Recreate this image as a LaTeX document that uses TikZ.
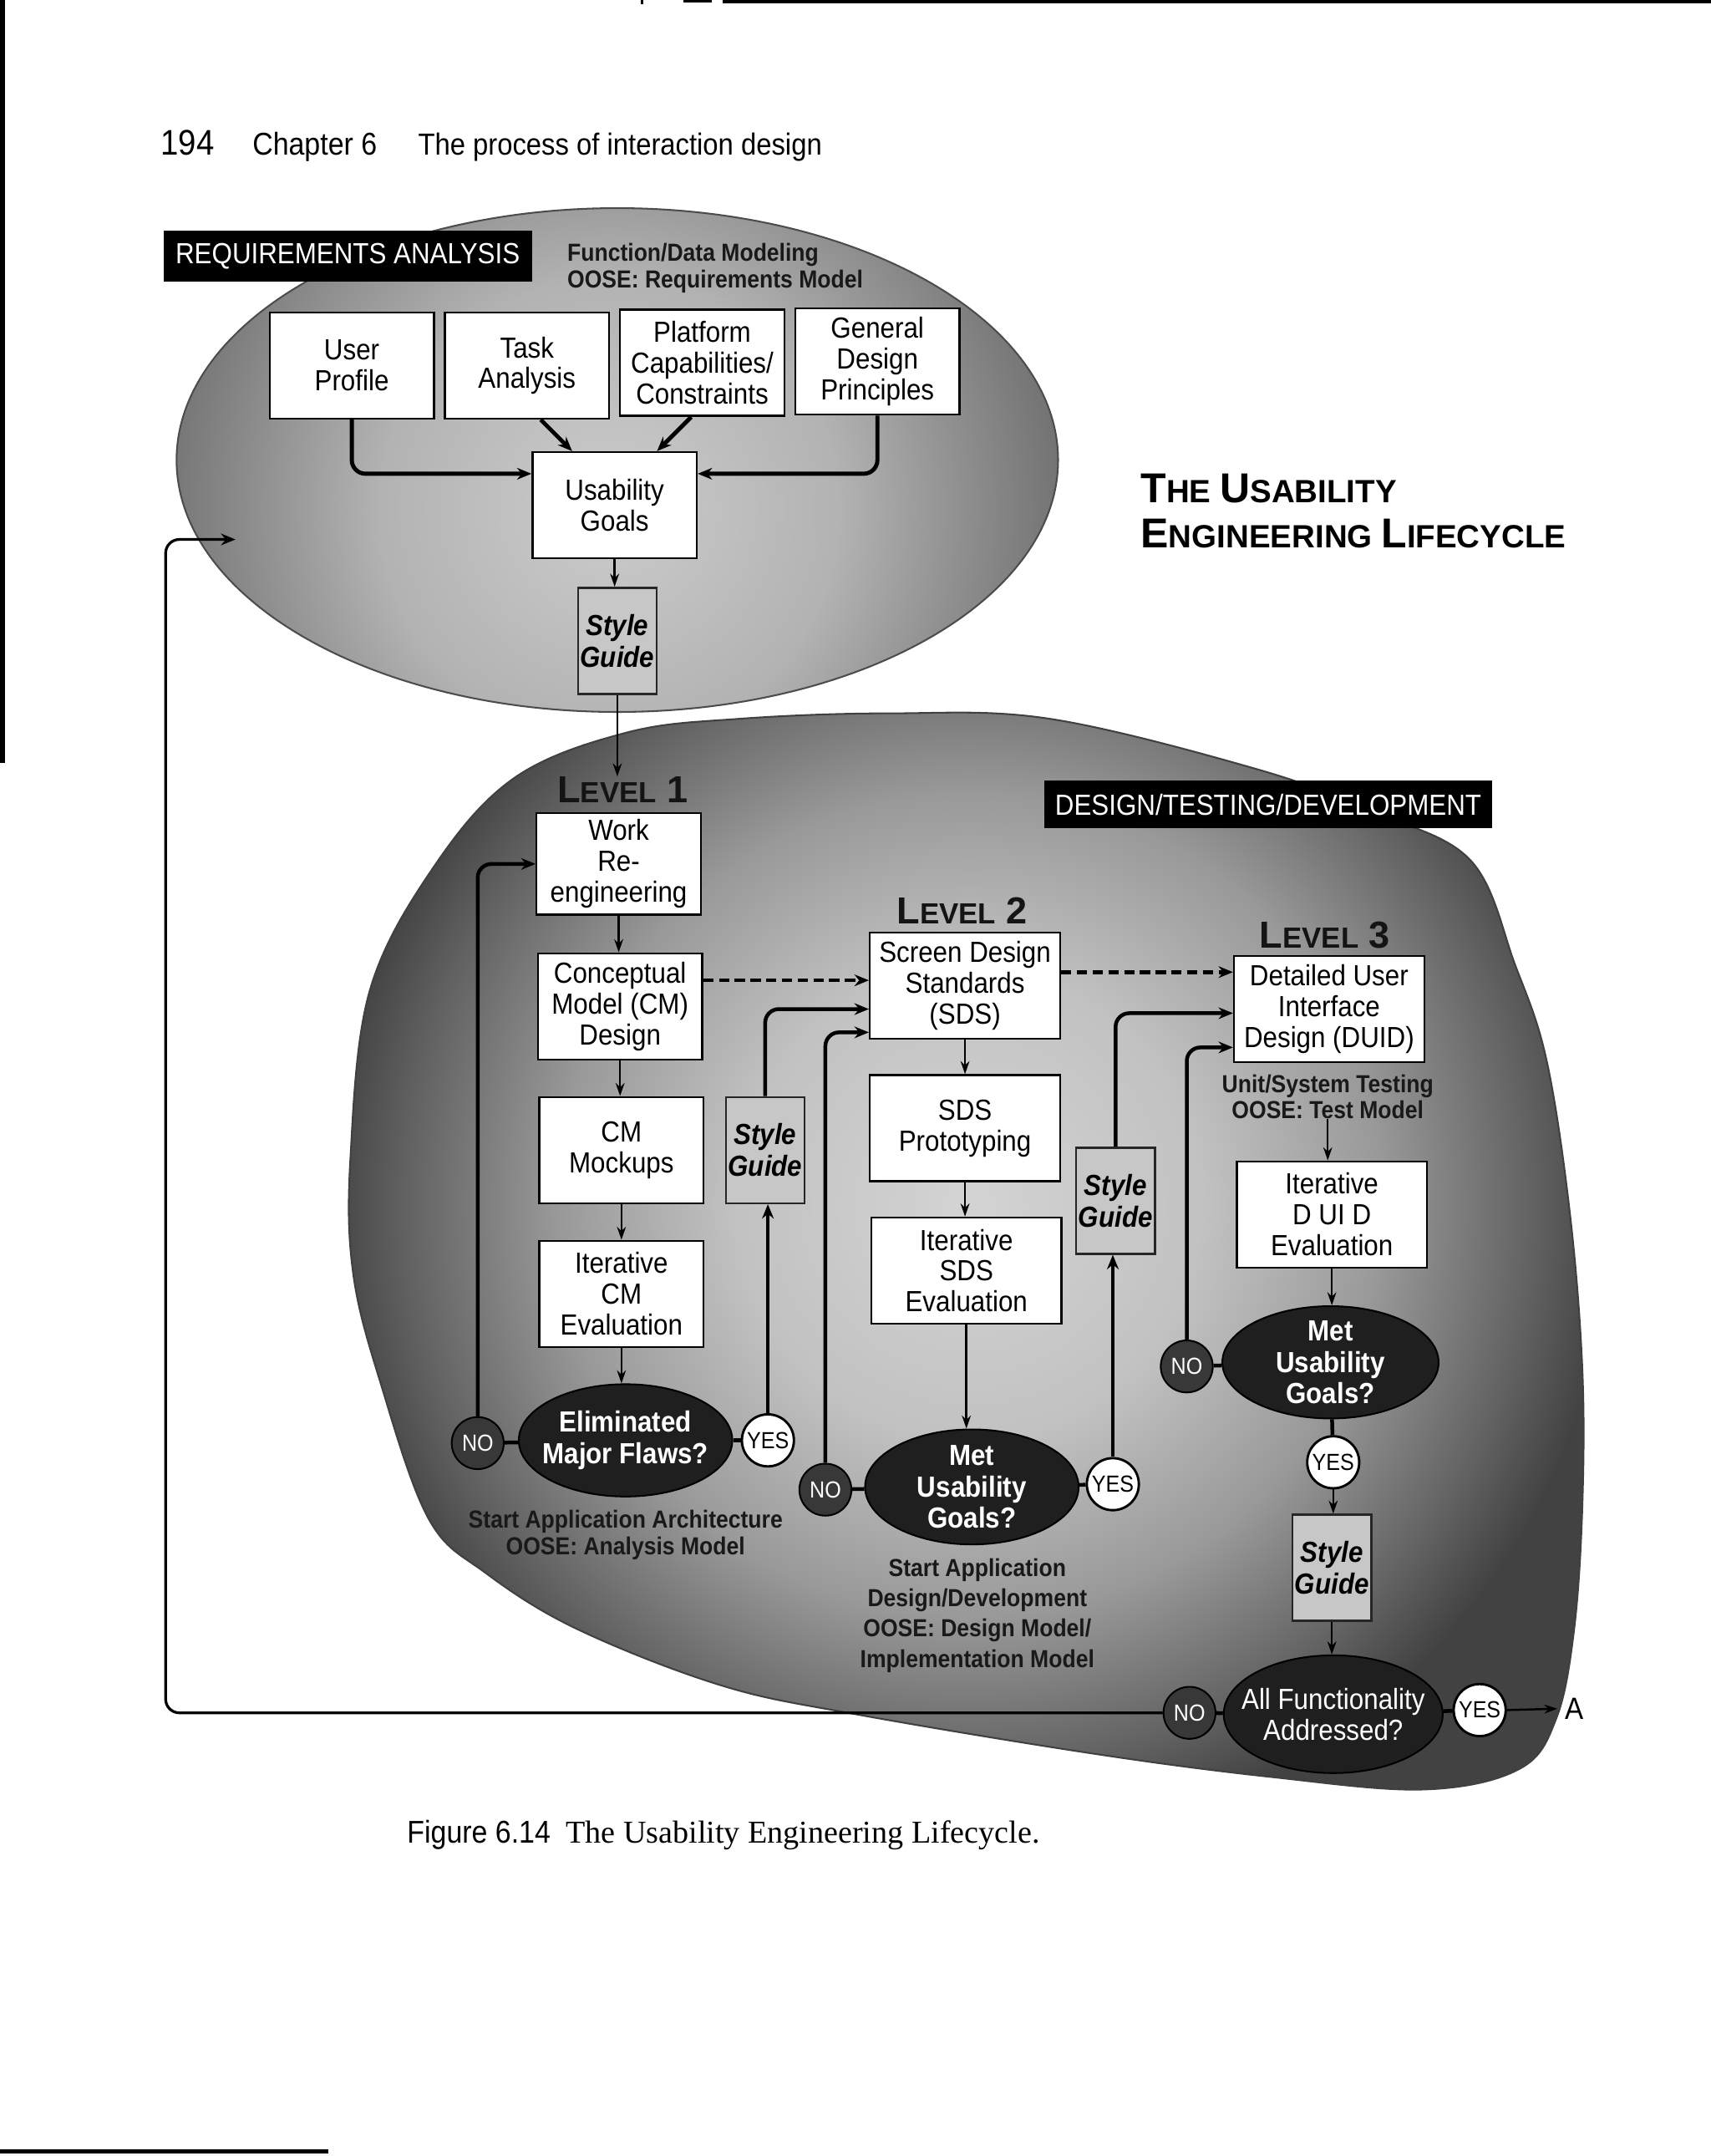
\documentclass[tikz,border=0pt]{standalone}
\usepackage{fontspec}
\setmainfont{Liberation Sans}
\newfontfamily\hv[FakeStretch=0.9]{Liberation Sans}
\newfontfamily\tms{Liberation Serif}
\usetikzlibrary{arrows.meta,shapes.geometric,calc}
\colorlet{blA}{black!17}
\colorlet{blB}{black!24}
\colorlet{blC}{black!40}
\colorlet{blD}{black!62}
\colorlet{blE}{black!74}
\colorlet{elA}{black!20}
\colorlet{elB}{black!30}
\colorlet{elC}{black!58}
\pgfdeclareradialshading{blobsh}{\pgfpoint{0bp}{0bp}}{color(0bp)=(blA); color(9bp)=(blB); color(16bp)=(blC); color(22bp)=(blD); color(25bp)=(blE); color(50bp)=(blE)}
\pgfdeclareradialshading{ellsh}{\pgfpoint{0bp}{0bp}}{color(0bp)=(elA); color(12bp)=(elB); color(25bp)=(elC); color(50bp)=(elC)}
\newcommand\myBoxFont{\hv\fontsize{8.5}{9}\selectfont}
\newcommand\myNoteFont{\hv\bfseries\fontsize{7.2}{7.8}\selectfont}
\newcommand\myLvl[1]{{\fontsize{11}{11}\selectfont L}{\fontsize{8.5}{8.5}\selectfont EVEL}{\fontsize{11}{11}\selectfont\ #1}}
\tikzset{
  wbox/.style={draw=black, line width=0.6pt, fill=white, minimum width=48pt, minimum height=31pt, inner sep=0pt, align=center, font=\myBoxFont},
  sgbox/.style={draw=black!85, line width=0.6pt, fill=black!22, minimum width=23pt, minimum height=31pt, inner sep=0pt, align=center, font=\hv\bfseries\itshape\fontsize{8.5}{9.2}\selectfont},
  decshape/.style={ellipse, draw=black, fill=black!88, line width=0.5pt, inner sep=0pt},
  dectxt/.style={text=white, align=center, font=\hv\bfseries\fontsize{8.5}{9.1}\selectfont, inner sep=0pt},
  nocirc/.style={circle, draw=black, fill=black!78, text=white, minimum size=15.2pt, inner sep=0pt, font=\hv\fontsize{6.8}{7}\selectfont, line width=0.5pt},
  yescirc/.style={circle, draw=black, fill=white, minimum size=15.2pt, inner sep=0pt, font=\hv\fontsize{6.8}{7}\selectfont, line width=0.7pt},
  arr/.style={line width=0.6pt, -{Stealth[length=3.8pt, width=2.6pt]}},
  arrb/.style={line width=1.1pt, rounded corners=4pt, -{Stealth[length=4.2pt, width=3.4pt]}},
  darr/.style={line width=1.1pt, dash pattern=on 3pt off 1.6pt, -{Stealth[length=4.2pt, width=3.4pt]}},
  link/.style={line width=1.1pt},
  lvl/.style={font=\bfseries, text=black!92, inner sep=0pt},
  note/.style={font=\myNoteFont, text=black!90, inner sep=0pt, align=center},
  blab/.style={fill=black, text=white, inner sep=0pt, font=\hv\fontsize{8.5}{9}\selectfont},
}
\begin{document}
\begin{tikzpicture}[x=0.4pt,y=-0.4pt]
\useasboundingbox[fill=white] (0,0) rectangle (1250,1574.7);
% page edge marks
\fill (528,0) rectangle (1250,2.5);
\fill (499,0) rectangle (520,2);
\fill (468,0) rectangle (470,3);
\fill (0,0) rectangle (3.5,557);
\fill (0,1569.5) rectangle (240,1573);
% header
\node[anchor=base west, inner sep=0, font=\hv\fontsize{10.4}{11}\selectfont] (pg) at (117,113) {194};
\node[anchor=base west, inner sep=0, font=\hv\fontsize{9.2}{11}\selectfont] (ch) at (184,113) {Chapter 6};
\node[anchor=base west, inner sep=0, font=\hv\fontsize{8.9}{11}\selectfont] (cht) at (305,113) {The process of interaction design};
% requirements ellipse
\begin{scope}
  \clip (451,336) ellipse [x radius=322, y radius=184];
  \fill[elC] (120,140) rectangle (780,530);
  \shade[shading=ellsh] (445,372) circle [radius=350];
\end{scope}
\draw[black!70, line width=0.5pt] (451,336) ellipse [x radius=322, y radius=184];
% design blob
\begin{scope}
  \clip plot[smooth cycle, tension=0.6] coordinates {(376,568) (458,535) (540,525) (650,521) (767,525) (919,562) (1000,592) (1074,628) (1107,705) (1130,775) (1147,887) (1156,1000) (1156,1100) (1150,1190) (1137,1255) (1110,1292) (1040,1307) (930,1298) (800,1281) (625,1252) (527,1231) (422,1190) (355,1149) (313,1109) (278,1010) (258,930) (256,846) (270,724) (317,633)};
  \fill[blE] (240,500) rectangle (1180,1330);
  \shade[shading=blobsh] (708,880) circle [radius=470];
\end{scope}
\draw[black!75, line width=0.5pt]
  plot[smooth cycle, tension=0.6] coordinates {(376,568) (458,535) (540,525) (650,521) (767,525) (919,562) (1000,592) (1074,628) (1107,705) (1130,775) (1147,887) (1156,1000) (1156,1100) (1150,1190) (1137,1255) (1110,1292) (1040,1307) (930,1298) (800,1281) (625,1252) (527,1231) (422,1190) (355,1149) (313,1109) (278,1010) (258,930) (256,846) (270,724) (317,633)};
% labels
\node[blab, minimum width=107.6pt, minimum height=14.8pt] (req) at (254,187) {REQUIREMENTS ANALYSIS};
\node[blab, minimum width=130.8pt, minimum height=14pt] (dtd) at (926.5,587.5) {DESIGN/TESTING/DEVELOPMENT};
\node[note, anchor=west, align=left] (fdm) at (414,196) {Function/Data Modeling\\OOSE: Requirements Model};
% title
\node[anchor=base west, inner sep=0, font=\bfseries] (tt1) at (833,367) {{\fontsize{12.2}{13}\selectfont T}{\fontsize{9.4}{13}\selectfont HE }{\fontsize{12.2}{13}\selectfont U}{\fontsize{9.4}{13}\selectfont SABILITY}};
\node[anchor=base west, inner sep=0, font=\bfseries] (tt2) at (833,400) {{\fontsize{12.2}{13}\selectfont E}{\fontsize{9.4}{13}\selectfont NGINEERING }{\fontsize{12.2}{13}\selectfont L}{\fontsize{9.4}{13}\selectfont IFECYCLE}};
% requirements boxes
\node[wbox] (up) at (257,267) {User\\Profile};
\node[wbox] (ta) at (385,267) {Task\\Analysis};
\node[wbox] (pc) at (513,265) {Platform\\Capabilities/\\Constraints};
\node[wbox] (gd) at (641,264) {General\\Design\\Principles};
\node[wbox] (ug) at (449,369) {Usability\\Goals};
\node[sgbox] (sg0) at (451,468) {Style\\Guide};
% level labels
\node[lvl] (lev1) at (455,577) {\myLvl{1}};
\node[lvl] (lev2) at (703,665) {\myLvl{2}};
\node[lvl] (lev3) at (968,683) {\myLvl{3}};
% level 1
\node[wbox, minimum height=29.6pt] (wr) at (452,631) {Work\\Re-\\engineering};
\node[wbox] (cm) at (453,735) {Conceptual\\Model (CM)\\Design};
\node[wbox] (mk) at (454,840) {CM\\Mockups};
\node[wbox] (icm) at (454,945) {Iterative\\CM\\Evaluation};
\node[sgbox] (sg1) at (559,840) {Style\\Guide};
\node[decshape, minimum width=62.4pt, minimum height=32.8pt] (d1) at (457,1052) {};
\node[dectxt] (d1t) at (d1) {Eliminated\\Major Flaws?};
\node[nocirc] (n1) at (349,1054) {NO};
\node[yescirc] (y1) at (561,1052) {YES};
\node[note] (saa) at (457,1121) {Start Application Architecture\\OOSE: Analysis Model};
% level 2
\node[wbox, minimum width=55.6pt] (sds) at (705,720) {Screen Design\\Standards\\(SDS)};
\node[wbox, minimum width=55.6pt] (sdp) at (705,824) {SDS\\Prototyping};
\node[wbox, minimum width=55.6pt] (isds) at (706,928) {Iterative\\SDS\\Evaluation};
\node[sgbox] (sg2) at (815,877) {Style\\Guide};
\node[decshape, minimum width=62.4pt, minimum height=33.6pt] (d2) at (710,1086) {};
\node[dectxt] (d2t) at (d2) {Met\\Usability\\Goals?};
\node[nocirc] (n2) at (603,1088) {NO};
\node[yescirc] (y2) at (813,1084) {YES};
\node[note, font=\hv\bfseries\fontsize{7.2}{8.8}\selectfont] (sad) at (714,1180) {Start Application\\Design/Development\\OOSE: Design Model/\\Implementation Model};
% level 3
\node[wbox, minimum width=55.6pt] (duid) at (971,737) {Detailed User\\Interface\\Design (DUID)};
\node[note, font=\hv\bfseries\fontsize{7.2}{7.4}\selectfont] (ust) at (970,801) {Unit/System Testing\\OOSE: Test Model};
\node[wbox, minimum width=55.6pt] (iduid) at (973,887) {Iterative\\D UI D\\Evaluation};
\node[decshape, minimum width=63.2pt, minimum height=32.8pt] (d3) at (972,995) {};
\node[dectxt] (d3t) at (d3) {Met\\Usability\\Goals?};
\node[nocirc] (n3) at (867,998) {NO};
\node[yescirc] (y3) at (974,1068) {YES};
\node[sgbox] (sg3) at (973,1145) {Style\\Guide};
\node[decshape, minimum width=64pt, minimum height=34.4pt] (d4) at (974,1252) {};
\node[dectxt, font=\hv\fontsize{8.5}{9.1}\selectfont] (d4t) at (d4) {All Functionality\\Addressed?};
\node[nocirc] (n4) at (869,1251) {NO};
\node[yescirc] (y4) at (1081,1249) {YES};
\node[inner sep=0, font=\hv\fontsize{9}{9}\selectfont] (A) at (1150,1248) {A};
% caption
\node[anchor=base west, inner sep=0, font=\hv\fontsize{9.2}{10}\selectfont] (fig) at (297,1346) {Figure 6.14};
\node[anchor=base west, inner sep=0, font=\tms\fontsize{9.3}{10}\selectfont] (cap) at (413,1346) {The Usability Engineering Lifecycle.};
% connectors: requirements
\draw[arrb, line width=1.2pt] (up.south) |- ($(ug.west)+(0,-23)$);
\draw[arrb, line width=1.2pt] (gd.south) |- ($(ug.east)+(0,-23)$);
\draw[arrb, line width=1.2pt] ($(ta.south)+(10,0)$) -- ($(ug.north)+(-31,0)$);
\draw[arrb, line width=1.2pt] ($(pc.south)+(-8,0)$) -- ($(ug.north)+(31,0)$);
\draw[arr] (ug.south) -- (ug.south |- sg0.north);
\draw[arr] (sg0.south) -- (sg0.south |- lev1.north);
% level 1
\draw[arr] (wr.south) -- (wr.south |- cm.north);
\draw[arr] (cm.south) -- (cm.south |- mk.north);
\draw[arr] (mk.south) -- (mk.south |- icm.north);
\draw[arr] (icm.south) -- (icm.south |- d1.north);
\draw[link] (n1) -- (d1);
\draw[link] (d1) -- (y1);
\draw[arrb] (n1.north) |- (wr.west);
\draw[arrb] (y1.north) -- (y1.north |- sg1.south);
\draw[arrb] (sg1.north) |- ($(sds.west)+(0,17)$);
\draw[darr] ($(cm.east)+(0,-19)$) -- ($(sds.west)+(0,-4)$);
% level 2
\draw[arr] (sds.south) -- (sds.south |- sdp.north);
\draw[arr] (sdp.south) -- (sdp.south |- isds.north);
\draw[arr] (isds.south) -- (isds.south |- d2.north);
\draw[link] (n2) -- (d2);
\draw[link] (d2) -- (y2);
\draw[arrb] (n2.north) |- ($(sds.west)+(0,34)$);
\draw[arrb] (y2.north) -- (y2.north |- sg2.south);
\draw[arrb] (sg2.north) |- ($(duid.west)+(0,3)$);
\draw[darr] ($(sds.east)+(0,-10)$) -- ($(duid.west)+(0,-27)$);
% level 3
\draw[arr] (ust.south) -- (ust.south |- iduid.north);
\draw[arr] (iduid.south) -- (iduid.south |- d3.north);
\draw[link] (n3) -- (d3);
\draw[link] (d3) -- (y3);
\draw[arrb] (n3.north) |- ($(duid.west)+(0,28)$);
\draw[arr] (y3.south) -- (y3.south |- sg3.north);
\draw[arr] (sg3.south) -- (sg3.south |- d4.north);
\draw[link] (n4) -- (d4);
\draw[link] (d4) -- (y4);
\draw[arr] (y4.east) -- ([xshift=-2pt]A.west);
% feedback loop
\coordinate (fbc) at (121,394);
\coordinate (fbt) at (172,394);
\draw[arrb, line width=0.8pt] (n4.west) -| (fbc) -- (fbt);
\end{tikzpicture}
\end{document}
